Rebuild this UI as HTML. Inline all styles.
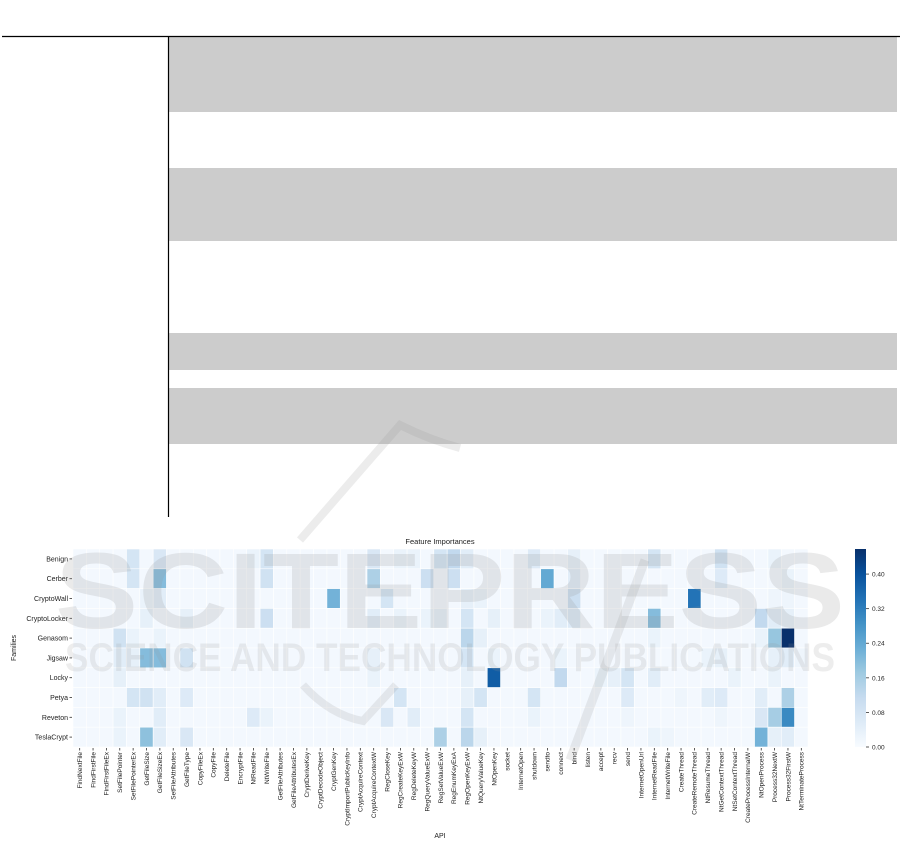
<!DOCTYPE html>
<html><head><meta charset="utf-8">
<style>
html,body{margin:0;padding:0;background:#fff;}
body{width:901px;height:853px;position:relative;overflow:hidden;font-family:"Liberation Sans","DejaVu Sans",sans-serif;}
svg{position:absolute;left:0;top:0;}
</style></head>
<body>
<svg id="page" width="901" height="853" viewBox="0 0 901 853" xmlns="http://www.w3.org/2000/svg">
  <g>
    <rect x="169" y="37" width="728" height="75" fill="#cccccc"/>
    <rect x="169" y="168" width="728" height="73" fill="#cccccc"/>
    <rect x="169" y="333" width="728" height="37" fill="#cccccc"/>
    <rect x="169" y="388" width="728" height="56" fill="#cccccc"/>
    <line x1="2" y1="36.5" x2="900" y2="36.5" stroke="#000" stroke-width="1.2"/>
    <line x1="168.5" y1="36" x2="168.5" y2="517" stroke="#000" stroke-width="1.2"/>
  </g>
  <g id="chart"></g>
  <g fill="rgba(150,150,150,0.2)">
    <text x="55" y="628" font-size="108" font-weight="bold" textLength="790" lengthAdjust="spacingAndGlyphs">SCITEPRESS</text>
    <text x="65" y="671" font-size="40" font-weight="bold" textLength="770" lengthAdjust="spacingAndGlyphs" fill="rgba(150,150,150,0.17)">SCIENCE AND TECHNOLOGY PUBLICATIONS</text>
    <path d="M300 540 L400 425 Q430 440 460 448" fill="none" stroke="rgba(150,150,150,0.18)" stroke-width="8"/>
    <path d="M645 560 L570 760" fill="none" stroke="rgba(150,150,150,0.18)" stroke-width="9"/>
    <path d="M303 685 Q330 715 363 721 L396 685" fill="none" stroke="rgba(150,150,150,0.18)" stroke-width="8"/>
  </g>
</svg>
<script>
const families = ["Benign","Cerber","CryptoWall","CryptoLocker","Genasom","Jigsaw","Locky","Petya","Reveton","TeslaCrypt"];
const apis = ["FindNextFile","FindFirstFile","FindFirstFileEx","SetFilePointer","SetFilePointerEx","GetFileSize","GetFileSizeEx","SetFileAttributes","GetFileType","CopyFileEx","CopyFile","DeleteFile","EncryptFile","NtReadFile","NtWriteFile","GetFileAttributes","GetFileAttributesEx","CryptDeriveKey","CryptDecodeObject","CryptGenKey","CryptImportPublicKeyInfo","CryptAcquireContext","CryptAcquireContextW","RegCloseKey","RegCreateKeyExW","RegDeleteKeyW","RegQueryValueExW","RegSetValueExW","RegEnumKeyExA","RegOpenKeyExW","NtQueryValueKey","NtOpenKey","socket","InternetOpen","shutdown","sendto","connect","bind","listen","accept","recv","send","InternetOpenUrl","InternetReadFile","InternetWriteFile","CreateThread","CreateRemoteThread","NtResumeThread","NtGetContextThread","NtSetContextThread","CreateProcessInternalW","NtOpenProcess","Process32NextW","Process32FirstW","NtTerminateProcess"];
const baseValue = 0.01;
// sparse non-baseline importances: [familyIndex, apiIndex, value]
const importances = [
 [0,4,0.08],[0,6,0.07],[0,13,0.03],[0,14,0.08],[0,22,0.07],[0,24,0.03],[0,25,0.03],[0,27,0.08],[0,28,0.12],[0,29,0.05],[0,34,0.06],[0,37,0.04],[0,43,0.08],[0,48,0.09],[0,52,0.03],
 [1,4,0.08],[1,6,0.20],[1,14,0.09],[1,22,0.15],[1,26,0.10],[1,28,0.10],[1,35,0.24],[1,37,0.05],[1,48,0.06],[1,53,0.03],
 [2,5,0.03],[2,6,0.05],[2,19,0.22],[2,23,0.08],[2,29,0.04],[2,30,0.03],[2,37,0.10],[2,46,0.34],[2,52,0.02],[2,53,0.02],
 [3,5,0.04],[3,8,0.04],[3,14,0.10],[3,22,0.05],[3,24,0.03],[3,26,0.03],[3,27,0.04],[3,29,0.08],[3,31,0.04],[3,35,0.03],[3,36,0.05],[3,37,0.06],[3,43,0.20],[3,51,0.12],[3,52,0.05],[3,53,0.04],
 [4,3,0.09],[4,4,0.03],[4,6,0.03],[4,29,0.13],[4,30,0.04],[4,43,0.03],[4,51,0.03],[4,52,0.18],[4,53,0.46],
 [5,3,0.05],[5,4,0.04],[5,5,0.20],[5,6,0.20],[5,8,0.09],[5,22,0.04],[5,29,0.08],[5,31,0.03],[5,36,0.03],[5,47,0.03],[5,48,0.04],[5,52,0.04],[5,53,0.05],[5,54,0.02],
 [6,3,0.04],[6,22,0.03],[6,29,0.04],[6,31,0.38],[6,36,0.12],[6,39,0.03],[6,40,0.04],[6,41,0.08],[6,43,0.05],[6,49,0.03],[6,52,0.03],
 [7,4,0.08],[7,5,0.09],[7,6,0.05],[7,8,0.06],[7,24,0.08],[7,29,0.04],[7,30,0.08],[7,34,0.08],[7,41,0.06],[7,45,0.02],[7,47,0.05],[7,48,0.06],[7,51,0.05],[7,53,0.15],
 [8,3,0.03],[8,6,0.05],[8,13,0.06],[8,14,0.03],[8,23,0.07],[8,25,0.05],[8,29,0.08],[8,34,0.03],[8,41,0.02],[8,48,0.02],[8,51,0.07],[8,52,0.16],[8,53,0.30],
 [9,3,0.03],[9,5,0.19],[9,6,0.05],[9,8,0.07],[9,27,0.15],[9,29,0.13],[9,30,0.04],[9,43,0.03],[9,44,0.02],[9,51,0.22],[9,52,0.04],[9,53,0.05]
];
const colorTicks = [0.00,0.08,0.16,0.24,0.32,0.40];
const vmax = 0.458;

const NS = "http://www.w3.org/2000/svg";
const g = document.getElementById('chart');
const X0 = 73, X1 = 808, Y0 = 549, Y1 = 747;
const cw = (X1 - X0) / apis.length, ch = (Y1 - Y0) / families.length;
const xScale = i => X0 + i * cw;
const yScale = j => Y0 + j * ch;
const cbY = v => Y1 - (v / vmax) * (Y1 - Y0);
const stops = [[0,[247,251,255]],[0.125,[222,235,247]],[0.25,[198,219,239]],[0.375,[158,202,225]],[0.5,[107,174,214]],[0.625,[66,146,198]],[0.75,[33,113,181]],[0.875,[8,81,156]],[1,[8,48,107]]];
function blues(v){
  let t = Math.max(0, Math.min(1, v / vmax));
  for (let k = 1; k < stops.length; k++) {
    if (t <= stops[k][0]) {
      const a = stops[k-1], b = stops[k], f = (t - a[0]) / (b[0] - a[0]);
      const c = a[1].map((x, i) => Math.round(x + (b[1][i] - x) * f));
      return `rgb(${c[0]},${c[1]},${c[2]})`;
    }
  }
  return 'rgb(8,48,107)';
}
function mk(tag, attrs, parent){
  const e = document.createElementNS(NS, tag);
  for (const k in attrs) e.setAttribute(k, attrs[k]);
  (parent || g).appendChild(e);
  return e;
}
const grid = families.map(() => apis.map(() => baseValue));
importances.forEach(([r, c, v]) => { grid[r][c] = v; });

const title = mk('text', {x: 440, y: 544, 'font-size': 7.5, 'text-anchor': 'middle', fill: '#222'});
title.textContent = 'Feature Importances';



grid.forEach((row, r) => row.forEach((v, c) => {
  const rect = mk('rect', {x: xScale(c), y: yScale(r), width: cw, height: ch, fill: blues(v), stroke: '#fff', 'stroke-width': 0.6});
  
  
}));

families.forEach((f, r) => {
  const y = yScale(r) + ch / 2;
  const tk = mk('line', {x1: X0 - 3.5, x2: X0 - 1, y1: y, y2: y, stroke: '#333', 'stroke-width': 0.8});
  
  
  const t = mk('text', {x: X0 - 5, y: y + 2.5, 'font-size': 7, 'text-anchor': 'end', fill: '#222'});
  t.textContent = f;
  
  
});
apis.forEach((a, c) => {
  const x = xScale(c) + cw / 2;
  const tk = mk('line', {x1: x, x2: x, y1: Y1 + 1, y2: Y1 + 3.5, stroke: '#333', 'stroke-width': 0.8});
  
  
  const t = mk('text', {x: x + 2.3, y: Y1 + 5, 'font-size': 6.5, 'text-anchor': 'end', fill: '#222', transform: `rotate(-90 ${x + 2.3} ${Y1 + 5})`});
  t.textContent = a;
  
  
});
const yl = mk('text', {x: 16, y: 648, 'font-size': 7, 'text-anchor': 'middle', fill: '#222', transform: 'rotate(-90 16 648)'});
yl.textContent = 'Families';


const xl = mk('text', {x: 440, y: 838, 'font-size': 7, 'text-anchor': 'middle', fill: '#222'});
xl.textContent = 'API';



const defs = mk('defs', {});
const grad = mk('linearGradient', {id: 'cbgrad', x1: 0, y1: 1, x2: 0, y2: 0}, defs);
stops.forEach(s => mk('stop', {offset: s[0], 'stop-color': `rgb(${s[1].join(',')})`}, grad));
const cb = mk('rect', {x: 855, y: Y0, width: 11, height: Y1 - Y0, fill: 'url(#cbgrad)'});


colorTicks.forEach(v => {
  const y = cbY(v);
  const tk = mk('line', {x1: 866, x2: 869, y1: y, y2: y, stroke: '#333', 'stroke-width': 0.8});
  
  
  const t = mk('text', {x: 872, y: y + 2.5, 'font-size': 6.5, fill: '#222'});
  t.textContent = v.toFixed(2);
  
  
});
</script>
</body></html>
